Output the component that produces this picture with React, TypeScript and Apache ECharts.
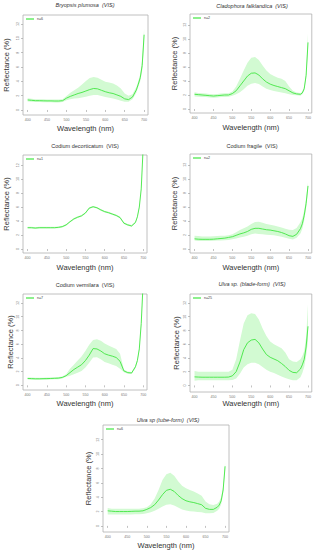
import React, { useEffect, useRef } from "react";
import * as echarts from "echarts";

const WAVELENGTHS = [400, 410, 420, 430, 440, 450, 460, 470, 480, 490, 500, 510, 520, 530, 540, 550, 560, 570, 580, 590, 600, 610, 620, 630, 640, 650, 660, 670, 680, 685, 690, 695, 700];
const X_TICKS = [400, 450, 500, 550, 600, 650, 700];
const Y_TICKS = [0, 2, 4, 6, 8, 10, 12];

// Bryopsis plumosa (n=6)
const BRY_MEAN = [1.4, 1.35, 1.3, 1.3, 1.28, 1.27, 1.27, 1.25, 1.25, 1.3, 1.65, 1.9, 2.1, 2.3, 2.45, 2.65, 2.85, 3.0, 2.95, 2.75, 2.55, 2.4, 2.3, 2.1, 1.9, 1.55, 1.45, 1.8, 2.8, 3.6, 4.5, 6.2, 10.5];
const BRY_HI = [1.65, 1.55, 1.5, 1.5, 1.48, 1.47, 1.47, 1.45, 1.45, 1.5, 1.95, 2.4, 2.75, 3.1, 3.55, 4.05, 4.45, 4.6, 4.5, 4.2, 3.95, 3.85, 3.7, 3.4, 3.0, 2.3, 2.0, 2.2, 3.2, 4.0, 5.0, 7.0, 11.4];
const BRY_LO = [1.2, 1.15, 1.1, 1.1, 1.08, 1.07, 1.07, 1.05, 1.05, 1.1, 1.35, 1.5, 1.6, 1.65, 1.75, 1.85, 2.0, 2.1, 2.1, 1.95, 1.8, 1.7, 1.6, 1.45, 1.3, 1.15, 1.15, 1.5, 2.4, 3.2, 4.0, 5.5, 9.2];

// Cladophora falklandica (n=2)
const CLA_MEAN = [2.1, 2.05, 2.0, 1.95, 1.9, 1.85, 1.9, 1.95, 2.0, 2.0, 2.2, 2.6, 3.3, 4.0, 4.7, 5.1, 5.15, 4.85, 4.3, 3.85, 3.55, 3.35, 3.2, 3.05, 2.9, 2.6, 2.3, 2.15, 2.1, 2.3, 2.9, 4.8, 9.5];
const CLA_HI = [2.4, 2.3, 2.25, 2.2, 2.15, 2.1, 2.15, 2.2, 2.25, 2.25, 2.5, 3.2, 4.3, 5.5, 6.6, 7.3, 7.4, 7.0, 6.2, 5.5, 5.0, 4.7, 4.45, 4.3, 4.0, 3.2, 2.6, 2.35, 2.3, 2.5, 3.2, 5.2, 10.8];
const CLA_LO = [1.8, 1.75, 1.72, 1.7, 1.65, 1.6, 1.65, 1.7, 1.72, 1.75, 1.9, 2.1, 2.4, 2.8, 3.3, 3.6, 3.7, 3.55, 3.2, 2.9, 2.7, 2.55, 2.45, 2.35, 2.25, 2.1, 2.0, 1.95, 1.9, 2.1, 2.6, 4.4, 8.3];

// Codium decorticatum (n=1)
const CDE_MEAN = [3.05, 3.05, 3.0, 3.05, 3.05, 3.05, 3.05, 3.05, 3.1, 3.2, 3.45, 3.9, 4.3, 4.55, 4.75, 5.15, 5.85, 6.05, 5.9, 5.6, 5.35, 5.2, 5.0, 4.8, 4.5, 3.7, 3.45, 3.3, 3.8, 4.6, 6.0, 8.6, 14.5];
const CDE_HI = [3.17, 3.17, 3.12, 3.17, 3.17, 3.17, 3.17, 3.17, 3.22, 3.32, 3.57, 4.02, 4.42, 4.67, 4.87, 5.27, 5.97, 6.17, 6.02, 5.72, 5.47, 5.32, 5.12, 4.92, 4.62, 3.82, 3.57, 3.42, 3.92, 4.72, 6.12, 8.72, 14.6];
const CDE_LO = [2.93, 2.93, 2.88, 2.93, 2.93, 2.93, 2.93, 2.93, 2.98, 3.08, 3.33, 3.78, 4.18, 4.43, 4.63, 5.03, 5.73, 5.93, 5.78, 5.48, 5.23, 5.08, 4.88, 4.68, 4.38, 3.58, 3.33, 3.18, 3.68, 4.48, 5.88, 8.48, 14.4];

// Codium fragile (n=2)
const CFR_MEAN = [1.45, 1.4, 1.38, 1.38, 1.38, 1.4, 1.45, 1.5, 1.55, 1.65, 1.75, 1.95, 2.15, 2.3, 2.5, 2.8, 2.95, 2.95, 2.85, 2.75, 2.7, 2.6, 2.5, 2.35, 2.15, 1.9, 1.8, 2.1, 2.9, 3.6, 4.8, 6.5, 9.0];
const CFR_HI = [1.9, 1.85, 1.8, 1.8, 1.8, 1.82, 1.85, 1.88, 1.9, 1.95, 2.1, 2.4, 2.7, 2.95, 3.2, 3.55, 3.85, 3.9, 3.75, 3.55, 3.45, 3.35, 3.2, 3.05, 2.9, 2.75, 2.7, 3.0, 3.8, 4.4, 5.5, 7.2, 9.5];
const CFR_LO = [1.2, 1.15, 1.15, 1.15, 1.15, 1.18, 1.2, 1.22, 1.25, 1.3, 1.4, 1.5, 1.65, 1.75, 1.9, 2.1, 2.2, 2.15, 2.1, 2.05, 2.0, 1.95, 1.85, 1.75, 1.6, 1.45, 1.35, 1.6, 2.2, 2.9, 4.1, 5.8, 8.4];

// Codium vermilara (n=7)
const CVE_MEAN = [1.0, 0.98, 0.95, 0.95, 0.97, 0.98, 1.0, 1.02, 1.05, 1.15, 1.4, 1.85, 2.3, 2.65, 3.0, 3.6, 4.4, 5.35, 5.3, 5.0, 4.6, 4.4, 4.25, 4.05, 3.5, 2.1, 1.85, 1.8, 2.7, 3.6, 5.3, 9.0, 15.0];
const CVE_HI = [1.15, 1.13, 1.1, 1.1, 1.12, 1.13, 1.15, 1.17, 1.2, 1.3, 1.6, 2.4, 3.0, 3.6, 4.2, 5.0, 5.9, 6.6, 6.7, 6.5, 6.1, 5.8, 5.55, 5.3, 4.6, 2.3, 2.0, 1.95, 2.9, 3.8, 5.5, 9.3, 15.2];
const CVE_LO = [0.85, 0.83, 0.8, 0.8, 0.82, 0.83, 0.85, 0.87, 0.9, 1.0, 1.25, 1.4, 1.6, 1.85, 2.1, 2.6, 3.3, 4.05, 4.1, 3.8, 3.4, 3.2, 3.0, 2.8, 2.4, 1.9, 1.7, 1.65, 2.5, 3.4, 5.1, 8.7, 14.8];

// Ulva sp. blade-form (n=25)
const UBL_MEAN = [1.25, 1.22, 1.2, 1.2, 1.2, 1.2, 1.2, 1.2, 1.2, 1.22, 1.4, 2.0, 3.4, 5.2, 6.2, 6.6, 6.7, 6.2, 5.3, 4.5, 4.1, 3.85, 3.6, 3.2, 2.75, 2.2, 1.9, 1.85, 2.4, 3.0, 3.8, 5.6, 8.6];
const UBL_HI = [2.1, 2.0, 2.0, 2.0, 2.0, 2.0, 2.0, 2.0, 2.0, 2.0, 2.3, 3.8, 6.5, 9.0, 10.2, 10.5, 10.4, 9.6, 8.3, 7.2, 6.4, 6.0, 5.7, 5.4, 4.8, 3.8, 3.5, 3.4, 3.8, 4.3, 5.0, 7.0, 11.8];
const UBL_LO = [0.7, 0.75, 0.75, 0.75, 0.75, 0.75, 0.75, 0.75, 0.75, 0.75, 0.8, 1.0, 1.7, 2.6, 3.1, 3.3, 3.3, 3.1, 2.7, 2.3, 2.0, 1.8, 1.55, 1.3, 1.1, 0.9, 0.75, 0.75, 1.2, 1.8, 2.7, 4.3, 6.5];

// Ulva sp. tube-form (n=6)
const UTU_MEAN = [2.1, 2.05, 2.0, 2.0, 2.0, 2.0, 2.02, 2.05, 2.05, 2.1, 2.3, 2.55, 2.95, 3.6, 4.35, 4.95, 5.1, 4.8, 4.25, 3.8, 3.5, 3.35, 3.25, 3.1, 2.95, 2.45, 2.3, 2.3, 2.6, 2.9, 3.5, 5.0, 8.3];
const UTU_HI = [2.5, 2.4, 2.4, 2.4, 2.4, 2.4, 2.4, 2.4, 2.4, 2.45, 2.6, 3.0, 3.8, 5.0, 6.4, 7.2, 7.4, 7.0, 6.2, 5.6, 5.25, 5.0, 4.8, 4.5, 4.2, 3.4, 3.0, 2.9, 3.1, 3.4, 4.0, 5.5, 8.8];
const UTU_LO = [1.6, 1.6, 1.6, 1.6, 1.6, 1.6, 1.6, 1.62, 1.62, 1.65, 1.75, 1.9, 2.1, 2.4, 2.7, 2.95, 3.0, 2.85, 2.55, 2.3, 2.15, 2.05, 2.0, 1.95, 1.9, 1.75, 1.75, 1.8, 2.1, 2.4, 3.0, 4.5, 7.6];

const TITLES = [
  "Bryopsis plumosa  (VIS)",
  "Cladophora falklandica  (VIS)",
  "Codium decorticatum  (VIS)",
  "Codium fragile  (VIS)",
  "Codium vermilara  (VIS)",
  "Ulva sp. (blade-form)  (VIS)",
  "Ulva sp (tube-form)  (VIS)",
];
const N_LABELS = ["n=6", "n=2", "n=1", "n=2", "n=7", "n=25", "n=6"];
const MEANS = [BRY_MEAN, CLA_MEAN, CDE_MEAN, CFR_MEAN, CVE_MEAN, UBL_MEAN, UTU_MEAN];
const HIS = [BRY_HI, CLA_HI, CDE_HI, CFR_HI, CVE_HI, UBL_HI, UTU_HI];
const LOS = [BRY_LO, CLA_LO, CDE_LO, CFR_LO, CVE_LO, UBL_LO, UTU_LO];

// layout (pixels)
const LAYOUT = [
  { left: 23, top: 15, width: 125, height: 100, yMin: -0.7, yMax: 13.25, xGap: 9, yGap: 13, tx: 85, ty: 5, italic: true },
  { left: 190, top: 14, width: 122, height: 99, yMin: -0.57, yMax: 13.55, xGap: 10, yGap: 12, tx: 252, ty: 6, italic: true },
  { left: 23, top: 155, width: 124, height: 98, yMin: -0.57, yMax: 13.45, xGap: 10, yGap: 13, tx: 85, ty: 146, italic: false },
  { left: 190, top: 154, width: 122, height: 99, yMin: -0.57, yMax: 13.55, xGap: 10, yGap: 12, tx: 252, ty: 146, italic: false },
  { left: 23, top: 294, width: 124, height: 96, yMin: -0.68, yMax: 13.3, xGap: 9, yGap: 8.5, tx: 85, ty: 285, italic: false },
  { left: 190, top: 294, width: 122, height: 98, yMin: -0.95, yMax: 13.3, xGap: 7.5, yGap: 10, tx: 252, ty: 284, italic: true },
  { left: 103, top: 425, width: 126, height: 107, yMin: -0.85, yMax: 14.05, xGap: 9, yGap: 11, tx: 168, ty: 420, italic: true },
];

const LINE = "#42e642";
const BAND = "#d2fad2";
const FONT = "'Liberation Sans', Arial, sans-serif";

export default function App() {
  const ref = useRef<HTMLDivElement>(null);
  useEffect(() => {
    if (!ref.current) return;
    const chart = echarts.init(ref.current, undefined, { renderer: "svg" });
    const grid: any[] = [];
    const xAxis: any[] = [];
    const yAxis: any[] = [];
    const series: any[] = [];
    const legend: any[] = [];
    const graphic: any[] = [];
    LAYOUT.forEach((L, i) => {
      grid.push({
        left: L.left, top: L.top, width: L.width, height: L.height,
        show: true, borderColor: "#b0b0b0", borderWidth: 0.8, backgroundColor: "transparent",
      });
      xAxis.push({
        type: "value", gridIndex: i, min: 388, max: 710,
        name: "Wavelength (nm)", nameLocation: "middle", nameGap: L.xGap,
        nameTextStyle: { fontSize: 7.5, color: "#333", fontFamily: FONT },
        axisLine: { show: false },
        axisTick: { show: true, length: 2, customValues: X_TICKS, lineStyle: { color: "#999", width: 0.6 } },
        axisLabel: { show: true, customValues: X_TICKS, fontSize: 3.6, color: "#777", margin: 3, fontFamily: FONT },
        splitLine: { show: false },
      });
      yAxis.push({
        type: "value", gridIndex: i, min: L.yMin, max: L.yMax,
        name: "Reflectance (%)", nameLocation: "middle", nameGap: L.yGap,
        nameTextStyle: { fontSize: 7.5, color: "#333", fontFamily: FONT },
        axisLine: { show: false },
        axisTick: { show: true, length: 2, customValues: Y_TICKS, lineStyle: { color: "#999", width: 0.6 } },
        axisLabel: { show: true, customValues: Y_TICKS, fontSize: 3.6, color: "#777", margin: 3, rotate: 90, fontFamily: FONT },
        splitLine: { show: false },
      });
      const lo = LOS[i], hi = HIS[i], mean = MEANS[i];
      series.push({
        type: "custom", xAxisIndex: i, yAxisIndex: i, silent: true, z: 1,
        data: WAVELENGTHS.map((w, k) => [w, lo[k], hi[k]]),
        encode: { x: 0, y: [1, 2] },
        renderItem: (params: any, api: any) => {
          if (params.dataIndex !== 0) return null;
          const upper = WAVELENGTHS.map((w, k) => api.coord([w, hi[k]]));
          const lower = WAVELENGTHS.map((w, k) => api.coord([w, lo[k]])).reverse();
          const cs = params.coordSys;
          return {
            type: "group",
            clipPath: { type: "rect", shape: { x: cs.x, y: cs.y, width: cs.width, height: cs.height } },
            children: [
              { type: "polygon", shape: { points: upper.concat(lower) }, style: { fill: BAND, stroke: "none" } },
            ],
          };
        },
      });
      series.push({
        type: "line", name: N_LABELS[i], xAxisIndex: i, yAxisIndex: i, symbol: "none", z: 3,
        color: LINE, lineStyle: { color: LINE, width: 0.9 },
        data: WAVELENGTHS.map((w, k) => [w, mean[k]]),
      });
      legend.push({
        data: [N_LABELS[i]], left: L.left + 3, top: L.top + 2, padding: 0,
        icon: "rect", itemWidth: 8, itemHeight: 1.2, itemGap: 2,
        textStyle: { fontSize: 3.6, color: "#444", fontFamily: FONT, padding: [0, 0, 0, -2] },
        selectedMode: false,
      });
      graphic.push({
        type: "text", x: L.tx, y: L.ty,
        style: {
          text: TITLES[i], fontSize: 5.5, fontStyle: L.italic ? "italic" : "normal",
          fill: "#333", align: "center", verticalAlign: "middle", fontFamily: FONT,
        },
      });
    });
    chart.setOption({
      animation: false,
      backgroundColor: "#ffffff",
      grid, xAxis, yAxis, series, legend, graphic,
    });
    return () => chart.dispose();
  }, []);
  return <div ref={ref} style={{ position: "absolute", left: 0, top: 0, width: 314, height: 550 }} />;
}
